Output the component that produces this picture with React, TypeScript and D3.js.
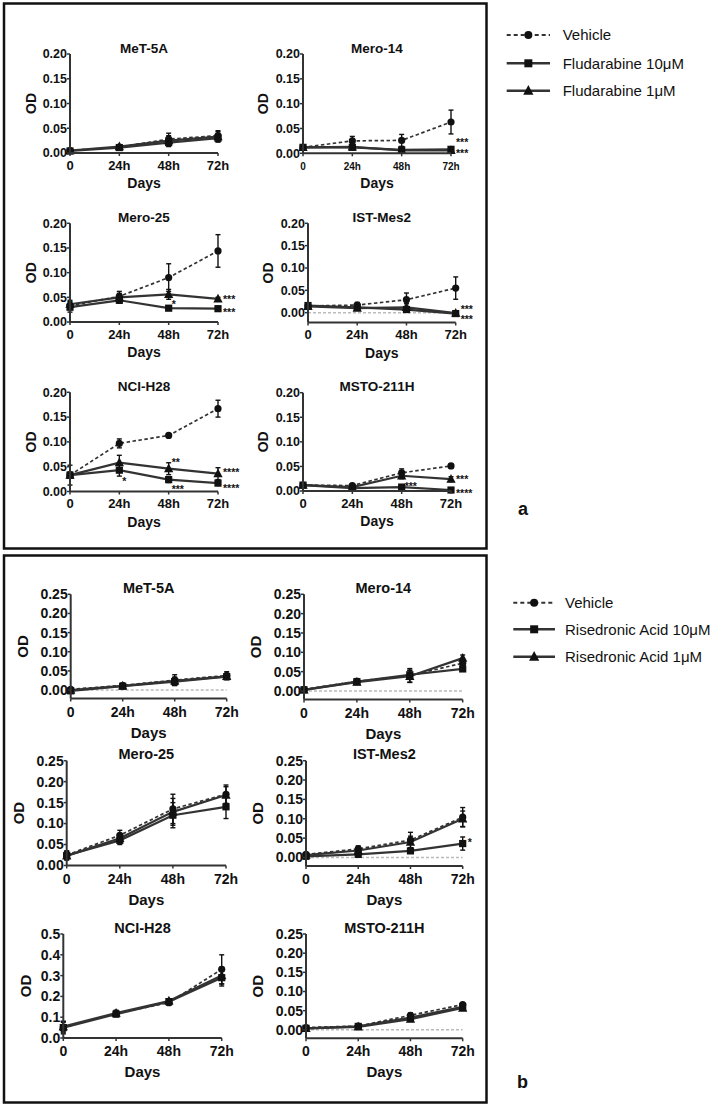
import React from 'react';
import * as d3 from 'd3';

// time points and labels
const timepoints = ['0', '24h', '48h', '72h'];
const cellLines = ['MeT-5A', 'Mero-14', 'Mero-25', 'IST-Mes2', 'NCI-H28', 'MSTO-211H'];
const legendA = ['Vehicle', 'Fludarabine 10μM', 'Fludarabine 1μM'];
const legendB = ['Vehicle', 'Risedronic Acid 10μM', 'Risedronic Acid 1μM'];

const yTicks020 = [0, 0.05, 0.1, 0.15, 0.2];
const yTicks025 = [0, 0.05, 0.1, 0.15, 0.2, 0.25];
const yTicks05 = [0, 0.1, 0.2, 0.3, 0.4, 0.5];

// panel a: fludarabine (rows = cell lines, cols = time points)
const fludaVehicle = [
  [0.005, 0.012, 0.028, 0.035],
  [0.012, 0.025, 0.026, 0.063],
  [0.033, 0.052, 0.09, 0.144],
  [0.015, 0.017, 0.029, 0.055],
  [0.033, 0.097, 0.113, 0.167],
  [0.012, 0.011, 0.037, 0.051],
];
const fludaVehicleErr = [
  [0.002, 0.003, 0.012, 0.01],
  [0.003, 0.009, 0.012, 0.024],
  [0.008, 0.01, 0.028, 0.033],
  [0.004, 0.006, 0.015, 0.025],
  [0.02, 0.009, 0.003, 0.017],
  [0.002, 0.004, 0.008, 0.004],
];
const fluda10 = [
  [0.004, 0.011, 0.021, 0.03],
  [0.012, 0.012, 0.007, 0.008],
  [0.03, 0.044, 0.028, 0.027],
  [0.016, 0.012, 0.007, -0.002],
  [0.033, 0.043, 0.024, 0.017],
  [0.012, 0.006, 0.008, 0.002],
];
const fluda10Err = [
  [0.002, 0.003, 0.008, 0.008],
  [0.002, 0.004, 0.005, 0.004],
  [0.01, 0.006, 0.004, 0.003],
  [0.003, 0.004, 0.006, 0.003],
  [0.006, 0.012, 0.006, 0.005],
  [0.002, 0.003, 0.003, 0.002],
];
const fluda1 = [
  [0.005, 0.013, 0.025, 0.033],
  [0.012, 0.013, 0.006, 0.006],
  [0.036, 0.05, 0.056, 0.047],
  [0.014, 0.01, 0.012, -0.001],
  [0.033, 0.058, 0.046, 0.036],
  [0.012, 0.008, 0.031, 0.024],
];
const fluda1Err = [
  [0.002, 0.003, 0.01, 0.01],
  [0.002, 0.004, 0.004, 0.003],
  [0.008, 0.008, 0.01, 0.003],
  [0.003, 0.004, 0.008, 0.003],
  [0.006, 0.015, 0.012, 0.012],
  [0.002, 0.003, 0.006, 0.005],
];
// significance marks: [cell, time, value, text]
const fludaStars: [number, number, number, string][] = [
  [1, 3, 0.026, '***'],
  [1, 3, 0.004, '***'],
  [2, 2, 0.04, '*'],
  [2, 3, 0.05, '***'],
  [2, 3, 0.025, '***'],
  [3, 3, 0.012, '***'],
  [3, 3, -0.01, '***'],
  [4, 1, 0.026, '*'],
  [4, 2, 0.063, '**'],
  [4, 2, 0.009, '***'],
  [4, 3, 0.044, '****'],
  [4, 3, 0.012, '****'],
  [5, 2, 0.014, '***'],
  [5, 3, 0.029, '***'],
  [5, 3, 0.001, '****'],
];

// panel b: risedronic acid
const riseVehicle = [
  [0.002, 0.012, 0.026, 0.038],
  [0.004, 0.025, 0.04, 0.072],
  [0.025, 0.072, 0.135, 0.17],
  [0.008, 0.022, 0.045, 0.104],
  [0.05, 0.118, 0.17, 0.33],
  [0.006, 0.01, 0.038, 0.066],
];
const riseVehicleErr = [
  [0.004, 0.006, 0.014, 0.01],
  [0.003, 0.007, 0.018, 0.01],
  [0.01, 0.012, 0.035, 0.022],
  [0.004, 0.008, 0.02, 0.025],
  [0.03, 0.015, 0.012, 0.07],
  [0.003, 0.003, 0.006, 0.005],
];
const rise10 = [
  [-0.002, 0.01, 0.022, 0.035],
  [0.003, 0.024, 0.042, 0.057],
  [0.024, 0.06, 0.12, 0.14],
  [0.003, 0.008, 0.017, 0.036],
  [0.05, 0.115, 0.175, 0.29],
  [0.004, 0.009, 0.032, 0.06],
];
const rise10Err = [
  [0.003, 0.005, 0.01, 0.008],
  [0.003, 0.006, 0.012, 0.006],
  [0.01, 0.01, 0.03, 0.028],
  [0.003, 0.005, 0.006, 0.017],
  [0.025, 0.012, 0.01, 0.04],
  [0.003, 0.003, 0.006, 0.005],
];
const rise1 = [
  [0, 0.011, 0.024, 0.036],
  [0.003, 0.023, 0.038, 0.085],
  [0.023, 0.065, 0.128, 0.168],
  [0.006, 0.018, 0.04, 0.1],
  [0.055, 0.12, 0.178, 0.3],
  [0.004, 0.008, 0.028, 0.057],
];
const rise1Err = [
  [0.003, 0.005, 0.01, 0.008],
  [0.003, 0.006, 0.015, 0.008],
  [0.01, 0.01, 0.032, 0.02],
  [0.003, 0.006, 0.015, 0.02],
  [0.025, 0.012, 0.01, 0.04],
  [0.003, 0.003, 0.006, 0.005],
];
const riseStars: [number, number, number, string][] = [[3, 3, 0.045, '*']];

interface Frame {
  x0: number; x1: number; top: number; bottom: number;
  yMin: number; yMax: number; ticks: number[]; fmt: string; odDx: number; xTick?: number;
}

const framesA: Frame[] = [
  { x0: 70, x1: 218, top: 54, bottom: 153, yMin: 0, yMax: 0.2, ticks: yTicks020, fmt: '.2f', odDx: -34 },
  { x0: 303, x1: 451, top: 54, bottom: 153.3, yMin: 0, yMax: 0.2, ticks: yTicks020, fmt: '.2f', odDx: -35, xTick: 10 },
  { x0: 70, x1: 218, top: 223.3, bottom: 322, yMin: 0, yMax: 0.2, ticks: yTicks020, fmt: '.2f', odDx: -34 },
  { x0: 308, x1: 455.7, top: 223.3, bottom: 322.5, yMin: -0.022, yMax: 0.2, ticks: yTicks020, fmt: '.2f', odDx: -35 },
  { x0: 70, x1: 218, top: 392.3, bottom: 491.5, yMin: 0, yMax: 0.2, ticks: yTicks020, fmt: '.2f', odDx: -34 },
  { x0: 303, x1: 451, top: 392.7, bottom: 491, yMin: 0, yMax: 0.2, ticks: yTicks020, fmt: '.2f', odDx: -35 },
];
const framesB: Frame[] = [
  { x0: 70.7, x1: 226.7, top: 594.3, bottom: 698.5, yMin: -0.022, yMax: 0.25, ticks: yTicks025, fmt: '.2f', odDx: -42.5 },
  { x0: 304, x1: 462.7, top: 594.3, bottom: 699.5, yMin: -0.022, yMax: 0.25, ticks: yTicks025, fmt: '.2f', odDx: -43 },
  { x0: 66.7, x1: 226, top: 760.7, bottom: 865.5, yMin: 0, yMax: 0.25, ticks: yTicks025, fmt: '.2f', odDx: -42.5 },
  { x0: 306, x1: 462.7, top: 760.7, bottom: 866, yMin: -0.022, yMax: 0.25, ticks: yTicks025, fmt: '.2f', odDx: -43 },
  { x0: 63.3, x1: 221.7, top: 934, bottom: 1038, yMin: 0, yMax: 0.5, ticks: yTicks05, fmt: '.1f', odDx: -32.5 },
  { x0: 306, x1: 462.7, top: 934, bottom: 1038.3, yMin: -0.022, yMax: 0.25, ticks: yTicks025, fmt: '.2f', odDx: -43 },
];

const fontA = { yTick: 12.5, xTick: 13, title: 13.5, days: 14, od: 14, tickGap: 16.5, daysGap: 35 };
const fontB = { yTick: 14, xTick: 14, title: 14.5, days: 15, od: 15, tickGap: 18, daysGap: 39 };

const FONT = 'Liberation Sans, Arial, Helvetica, sans-serif';
const INK = '#111';
const LINE = '#333';

type Shape = 'circle' | 'square' | 'triangle';
const shapes: Shape[] = ['circle', 'square', 'triangle'];

const Marker = ({ x, y, shape, size = 3.6 }: { x: number; y: number; shape: Shape; size?: number }) => {
  if (shape === 'circle') return <circle cx={x} cy={y} r={size} fill={INK} />;
  if (shape === 'square') return <rect x={x - size} y={y - size} width={size * 2} height={size * 2} fill={INK} />;
  const h = size * 1.15;
  return <path d={`M${x},${y - h - 1}L${x + h + 0.5},${y + h - 0.5}L${x - h - 0.5},${y + h - 0.5}Z`} fill={INK} />;
};

interface ChartProps {
  frame: Frame;
  title: string;
  series: number[][];
  errors: number[][];
  stars: [number, number, string][];
  font: typeof fontA;
}

const Chart = ({ frame, title, series, errors, stars, font }: ChartProps) => {
  const x = d3.scalePoint<string>().domain(timepoints).range([frame.x0, frame.x1]);
  const y = d3.scaleLinear().domain([frame.yMin, frame.yMax]).range([frame.bottom, frame.top]);
  const line = d3.line<number>().x((_, i) => x(timepoints[i])!).y(d => y(d));
  const fmt = d3.format(frame.fmt);
  const midX = (frame.x0 + frame.x1) / 2;
  return (
    <g>
      {frame.yMin < 0 && (
        <line x1={frame.x0} x2={frame.x1} y1={y(0)} y2={y(0)} stroke="#bbb" strokeWidth={1.5} strokeDasharray="3,2" />
      )}
      {series.map((s, k) => (
        <path key={k} d={line(s)!} fill="none" stroke={LINE} strokeWidth={k === 0 ? 1.7 : 2.2}
          strokeDasharray={k === 0 ? '3.5,2.5' : undefined} />
      ))}
      {series.map((s, k) => s.map((v, i) => {
        const cx = x(timepoints[i])!;
        const e = errors[k][i];
        return (
          <g key={`${k}-${i}`} stroke={INK} strokeWidth={1.4}>
            <line x1={cx} x2={cx} y1={y(v - e)} y2={y(v + e)} />
            <line x1={cx - 2.5} x2={cx + 2.5} y1={y(v - e)} y2={y(v - e)} />
            <line x1={cx - 2.5} x2={cx + 2.5} y1={y(v + e)} y2={y(v + e)} />
          </g>
        );
      }))}
      {series.map((s, k) => s.map((v, i) => (
        <Marker key={`m${k}-${i}`} x={x(timepoints[i])!} y={y(v)} shape={shapes[k]} />
      )))}
      {/* axes */}
      <line x1={frame.x0} x2={frame.x0} y1={frame.top} y2={frame.bottom} stroke="#333" strokeWidth={2} />
      <line x1={frame.x0} x2={frame.x1} y1={frame.bottom} y2={frame.bottom} stroke="#333" strokeWidth={2} />
      {frame.ticks.map(t => (
        <g key={t}>
          <line x1={frame.x0 - 3} x2={frame.x0} y1={y(t)} y2={y(t)} stroke="#333" strokeWidth={1.5} />
          <text x={frame.x0 - 3} y={y(t)} dy="0.35em" textAnchor="end" fontSize={font.yTick} fontWeight="bold">{fmt(t)}</text>
        </g>
      ))}
      {timepoints.map(t => (
        <g key={t}>
          <line x1={x(t)} x2={x(t)} y1={frame.bottom} y2={frame.bottom + 3} stroke="#333" strokeWidth={1.5} />
          <text x={x(t)} y={frame.bottom + font.tickGap} textAnchor="middle" fontSize={frame.xTick ?? font.xTick} fontWeight="bold">{t}</text>
        </g>
      ))}
      <text x={midX} y={frame.top - 1.5} textAnchor="middle" fontSize={font.title} fontWeight="bold">{title}</text>
      <text x={midX} y={frame.bottom + font.daysGap} textAnchor="middle" fontSize={font.days} fontWeight="bold">Days</text>
      <text transform={`translate(${frame.x0 + frame.odDx},${(frame.top + frame.bottom) / 2}) rotate(-90)`}
        textAnchor="middle" fontSize={font.od} fontWeight="bold">OD</text>
      {stars.map(([t, v, txt], i) => (
        <text key={`s${i}`} x={x(timepoints[t])! + (t === 3 ? 5 : 3)} y={y(v) + 6} fontSize={10.5}
          fontWeight="bold" fill={INK}>{txt}</text>
      ))}
    </g>
  );
};

const Legend = ({ labels, x0, x1, tx, rows }: { labels: string[]; x0: number; x1: number; tx: number; rows: number[] }) => (
  <g>
    {labels.map((l, k) => (
      <g key={l}>
        <line x1={x0} x2={x1} y1={rows[k]} y2={rows[k]} stroke={LINE} strokeWidth={k === 0 ? 2 : 2.5}
          strokeDasharray={k === 0 ? '4,3' : undefined} />
        <Marker x={(x0 + x1) / 2} y={rows[k]} shape={shapes[k]} size={4} />
        <text x={tx} y={rows[k]} dy="0.35em" fontSize={15}>{l}</text>
      </g>
    ))}
  </g>
);

export default function App() {
  return (
    <svg width={716} height={1106} style={{ position: 'absolute', left: 0, top: 0, background: '#fff' }}
      fontFamily={FONT} fill={INK}>
      <rect x={4} y={3.5} width={482.5} height={545} fill="none" stroke="#111" strokeWidth={2.5} />
      <rect x={4} y={555.5} width={482.5} height={547} fill="none" stroke="#111" strokeWidth={2.5} />
      {cellLines.map((c, i) => (
        <Chart key={`a${c}`} frame={framesA[i]} title={c} font={fontA}
          series={[fludaVehicle[i], fluda10[i], fluda1[i]]}
          errors={[fludaVehicleErr[i], fluda10Err[i], fluda1Err[i]]}
          stars={fludaStars.filter(s => s[0] === i).map(s => [s[1], s[2], s[3]] as [number, number, string])} />
      ))}
      {cellLines.map((c, i) => (
        <Chart key={`b${c}`} frame={framesB[i]} title={c} font={fontB}
          series={[riseVehicle[i], rise10[i], rise1[i]]}
          errors={[riseVehicleErr[i], rise10Err[i], rise1Err[i]]}
          stars={riseStars.filter(s => s[0] === i).map(s => [s[1], s[2], s[3]] as [number, number, string])} />
      ))}
      <Legend labels={legendA} x0={506.7} x1={550} tx={562.7} rows={[35, 63.3, 90.7]} />
      <Legend labels={legendB} x0={513.3} x1={555} tx={565} rows={[602.7, 629.3, 656.7]} />
      <text x={518} y={515} fontSize={18} fontWeight="bold">a</text>
      <text x={517} y={1088} fontSize={18} fontWeight="bold">b</text>
    </svg>
  );
}
